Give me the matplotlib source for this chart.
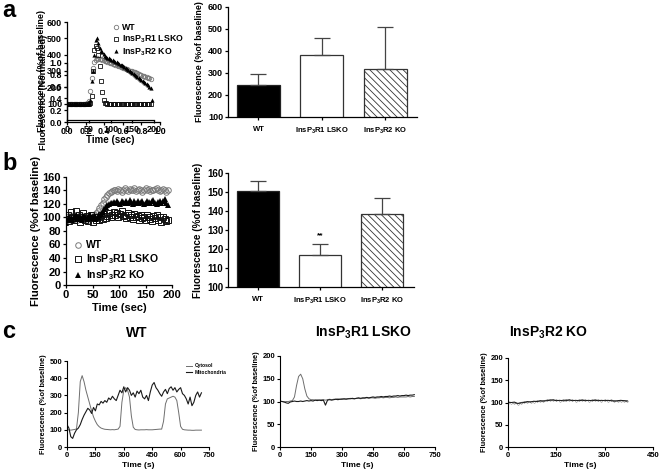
import numpy as np
import matplotlib
matplotlib.use("Agg")
import matplotlib.pyplot as plt

plt.rcParams['font.family'] = ['Liberation Sans', 'DejaVu Sans']
plt.rcParams['font.weight'] = 'bold'
plt.rcParams['axes.labelweight'] = 'bold'
plt.rcParams['mathtext.fontset'] = 'custom'
plt.rcParams['mathtext.rm'] = 'Liberation Sans:bold'
plt.rcParams['mathtext.bf'] = 'Liberation Sans:bold'
plt.rcParams['mathtext.default'] = 'bf'
plt.rcParams['hatch.linewidth'] = 0.6

# ---------------- data ----------------
groups = ['WT', 'InsP$_3$R1 LSKO', 'InsP$_3$R2 KO']

# panel a, left: time course (3 s sampling)
a_wt = [100, 101, 100, 99, 100, 101, 100, 100, 99, 100, 101, 100, 100, 101, 100, 102, 104,
        115, 180, 260, 320, 355, 370, 378, 376,
        374, 371, 368, 366, 362, 359, 356, 353, 350, 347, 344, 341, 338, 334, 331,
        328, 325, 322, 319, 316, 313, 310, 306, 303, 300, 297, 294, 291, 288, 285,
        282, 278, 275, 272, 269, 266, 263, 260, 256, 253]
a_lsko = [100, 99, 100, 100, 101, 100, 99, 100, 100, 101, 100, 100, 99, 100, 100, 101, 100, 100, 103,
          150, 300, 430, 455, 440, 400, 330, 240, 170, 125, 107, 102,
          100, 100, 99, 100, 100, 100, 101, 100, 100, 99, 100, 100, 100, 100, 99, 100, 100, 101,
          100, 100, 100, 99, 100, 100, 100, 100, 100, 99, 100, 100, 101, 100, 100, 100]
a_ko = [100, 101, 100, 99, 100, 100, 101, 100, 99, 100, 100, 101, 100, 100, 99, 101, 100, 102,
        120, 240, 300, 400, 490, 505, 470, 440, 425, 415, 405,
        390, 386, 382, 378, 374, 370, 366, 361, 357, 353, 348, 344, 339, 334, 329, 324, 318, 312,
        306, 300, 294, 288, 282, 276, 270, 264, 258, 252, 246, 240, 233, 226, 219, 212, 205, 198]
a_ko_last_t = [195]
a_ko_last_v = [125]

# panel a, right: peak fluorescence (% of baseline), mean and SEM
a_mean = [245, 383, 316]
a_sem = [50, 77, 195]

# panel b, left: time course (3 s sampling)
b_wt = [95, 98, 102, 97, 100, 104, 99, 96, 101, 103, 98, 100, 102, 99, 97, 101, 104, 100, 103, 106,
        110, 114, 118, 122, 127, 131, 134, 136, 138, 139, 140,
        141, 139, 142, 140, 138, 141, 143, 140, 139, 142, 141, 140, 143, 139, 141, 142, 140,
        138, 141, 143, 140, 142, 139, 141, 140, 142, 143, 140, 139, 141, 142, 140, 138, 141]
b_lsko = [98, 104, 95, 108, 101, 96, 110, 99, 103, 94,
          100, 106, 97, 102, 95, 99, 104, 93, 101, 97,
          100, 96, 103, 98, 105, 99, 102, 107, 101, 104,
          108, 103, 106, 100, 105, 109, 102, 104, 99, 107,
          101, 103, 98, 105, 100, 102, 96, 104, 99, 101,
          97, 103, 100, 98, 95, 102, 99, 104, 96, 101,
          93, 100, 98, 95, 97]
b_ko = [92, 97, 101, 99, 96, 100, 103, 98, 101, 99, 97, 102, 100, 98, 101, 103, 99, 100, 102, 98, 101, 103, 105,
        108, 112, 116, 118, 120, 121, 122,
        123, 121, 124, 122, 120, 125, 123, 121, 124, 122, 126, 123, 120, 124, 122, 125, 121, 123,
        124, 120, 122, 125, 123, 121, 124, 126, 122, 120, 123, 125, 121, 124, 127, 122, 118]

# panel b, right
b_mean = [150.5, 117, 138.5]
b_sem = [5.5, 5.5, 8.5]

# panel c (10 s sampling)
c_wt_cyto = [100, 100, 98, 100, 102, 105, 200, 380, 415, 380,
             330, 290, 250, 210, 175, 150, 130, 118, 110, 106,
             103, 102, 101, 100, 101, 100, 102, 104, 120, 260,
             330, 345, 330, 290, 180, 115, 102, 100, 99, 100,
             100, 100, 101, 100, 100, 100, 101, 102, 103, 104,
             104, 150, 250, 280, 285, 290, 295, 290, 270, 200,
             120, 103, 100, 99, 98, 98, 97, 97, 98, 98, 98, 98]
c_wt_mito = [130, 110, 60, 50, 80, 100, 110, 130, 160, 185,
             205, 225, 215, 195, 230, 210, 250, 245, 265, 255,
             270, 260, 285, 275, 295, 280, 270, 300, 330, 315,
             350, 320, 345, 330, 300, 315, 290, 325, 310, 330,
             290, 280, 300, 270, 320, 360, 375, 345, 330, 310,
             295, 320, 335, 310, 340, 350, 330, 345, 320, 335,
             345, 310, 300, 280, 250, 290, 240, 260, 300, 320, 290, 315]
c_lsko_cyto = [100, 100, 99, 100, 100, 101, 102, 110, 135, 155,
               160, 150, 128, 112, 106, 104, 104, 103, 104, 103,
               104, 104, 103, 104, 105, 104, 105, 105, 106, 105,
               106, 105, 106, 106, 107, 106, 106, 107, 107, 106,
               107, 107, 108, 107, 108, 108, 107, 108, 108, 109,
               108, 109, 109, 108, 109, 109, 110, 109, 110, 110,
               110, 110, 111, 110, 111, 111]
c_lsko_mito = [101, 100, 99, 97, 96, 99, 100, 101, 100, 100,
               101, 100, 101, 102, 101, 102, 101, 103, 102, 103,
               102, 103, 92, 103, 104, 103, 104, 105, 104, 105,
               105, 106, 105, 106, 106, 107, 106, 107, 108, 107,
               108, 108, 109, 108, 109, 110, 109, 110, 110, 111,
               110, 111, 111, 112, 111, 112, 112, 113, 112, 113,
               113, 114, 113, 114, 114, 115]
c_ko_cyto = [100, 100, 99, 97, 100, 101, 101, 102, 102, 103,
             103, 104, 105, 106, 105, 105, 104, 105, 106, 105,
             105, 104, 105, 106, 105, 104, 105, 106, 105, 104,
             105, 104, 105, 104, 103, 104, 104, 104]
c_ko_mito = [101, 100, 101, 98, 99, 100, 102, 101, 103, 102,
             104, 103, 104, 105, 106, 104, 105, 104, 104, 106,
             104, 105, 104, 105, 104, 105, 104, 105, 104, 105,
             104, 105, 104, 103, 104, 105, 104, 103]

W, H = 660, 471
fig = plt.figure(figsize=(W / 100, H / 100), dpi=100)


def ax_px(l, t, r, b):
    return fig.add_axes([l / W, 1 - b / H, (r - l) / W, (b - t) / H])


def style(ax, fs, lw=0.9):
    for s in ['top', 'right']:
        ax.spines[s].set_visible(False)
    for s in ['left', 'bottom']:
        ax.spines[s].set_linewidth(lw)
    ax.tick_params(direction='out', length=2.5, width=lw, labelsize=fs, pad=1)


fl = 'Fluorescence (%of baseline)'

# ---------------- panel a left ----------------
ax = ax_px(67, 22, 154, 120)
style(ax, 6.5)
ax.plot(np.arange(len(a_wt)) * 3, a_wt, 'o', ms=3.2, mfc='none', mec='#7a7a7a', mew=0.6, label='WT')
ax.plot(np.arange(len(a_lsko)) * 3, a_lsko, 's', ms=3.0, mfc='none', mec='#111', mew=0.6, label='InsP$_3$R1 LSKO')
ax.plot(np.arange(len(a_ko)) * 3, a_ko, '^', ms=3.0, color='#000', mew=0, label='InsP$_3$R2 KO')
ax.plot(a_ko_last_t, a_ko_last_v, '^', ms=3.0, color='#000', mew=0)
ax.set_xlim(0, 200)
ax.set_ylim(0, 600)
ax.set_xticks([0, 50, 100, 150, 200])
ax.set_yticks([100, 200, 300, 400, 500, 600])
ax.set_ylabel(fl, fontsize=6.5, labelpad=1)
ax.set_xlabel('Time (sec)', fontsize=7, labelpad=1)
ax.legend(loc='upper left', bbox_to_anchor=(0.48, 1.03), frameon=False, fontsize=6.3,
          handlelength=0.6, handletextpad=0.4, labelspacing=0.15, borderpad=0)

# overlaid empty axis (artefact in the original)
ax2 = ax_px(67, 63, 160, 122)
ax2.patch.set_alpha(0)
style(ax2, 6.5)
ax2.set_xlim(0, 1)
ax2.set_ylim(0, 1)
ax2.set_xticks([0, 0.2, 0.4, 0.6, 0.8, 1.0])
ax2.set_yticks([0, 0.2, 0.4, 0.6, 0.8, 1.0])
ax2.set_ylabel('Fluorescence (Normalized)', fontsize=6.5, labelpad=1)

# ---------------- bar helper ----------------
xb = np.arange(3)


def bars(ax, mean, sem, fs_lab):
    ax.bar(xb[0], mean[0], width=0.68, color='#000', edgecolor='#222', lw=0.9)
    ax.bar(xb[1], mean[1], width=0.68, color='white', edgecolor='#333', lw=0.9)
    ax.bar(xb[2], mean[2], width=0.68, color='white', edgecolor='#333', lw=0.9, hatch='\\\\\\\\\\')
    ax.errorbar(xb, mean, yerr=[np.zeros(3), sem], fmt='none', ecolor='#444',
                elinewidth=0.9, capsize=5.5, capthick=0.9)
    ax.set_xticks(xb)
    ax.set_xticklabels(groups, fontsize=fs_lab)


# ---------------- panel a right ----------------
ax = ax_px(228, 7, 417, 117)
style(ax, 6.5)
bars(ax, a_mean, a_sem, 5.5)
ax.set_xlim(-0.48, 2.5)
ax.set_ylim(100, 600)
ax.set_yticks([100, 200, 300, 400, 500, 600])
ax.set_ylabel(fl, fontsize=6.4, labelpad=3)
ax.tick_params(axis='x', pad=4)

# ---------------- panel b left ----------------
ax = ax_px(66, 177, 172, 285)
style(ax, 8)
ax.plot(np.arange(len(b_wt)) * 3, b_wt, 'o', ms=4, mfc='none', mec='#7a7a7a', mew=0.7, label='WT')
ax.plot(np.arange(len(b_lsko)) * 3, b_lsko, 's', ms=3.8, mfc='none', mec='#111', mew=0.7, label='InsP$_3$R1 LSKO')
ax.plot(np.arange(len(b_ko)) * 3, b_ko, '^', ms=3.8, color='#000', mew=0, label='InsP$_3$R2 KO')
ax.set_xlim(0, 200)
ax.set_ylim(0, 160)
ax.set_xticks([0, 50, 100, 150, 200])
ax.set_yticks(np.arange(0, 161, 20))
ax.set_ylabel(fl, fontsize=8, labelpad=1)
ax.set_xlabel('Time (sec)', fontsize=8, labelpad=2)
ax.legend(loc='lower left', bbox_to_anchor=(0.03, -0.02), frameon=False, fontsize=7.5,
          handlelength=0.6, handletextpad=0.5, labelspacing=0.2, borderpad=0)

# ---------------- panel b right ----------------
ax = ax_px(228, 173, 414, 287)
style(ax, 7)
bars(ax, b_mean, b_sem, 5.5)
ax.set_xlim(-0.48, 2.52)
ax.set_ylim(100, 160)
ax.set_yticks([100, 110, 120, 130, 140, 150, 160])
ax.set_ylabel(fl, fontsize=7.2, labelpad=3)
ax.tick_params(axis='x', pad=4)
ax.text(xb[1], b_mean[1] + b_sem[1] + 4.5, '**', ha='center', va='center', fontsize=6)

# ---------------- panel c ----------------
cyto_c = '#6e6e6e'
mito_c = '#1a1a1a'

ax = ax_px(67, 361, 209, 447)
style(ax, 5.5, lw=0.8)
ax.plot(np.arange(len(c_wt_cyto)) * 10, c_wt_cyto, color=cyto_c, lw=0.7, label='Cytosol')
ax.plot(np.arange(len(c_wt_mito)) * 10, c_wt_mito, color=mito_c, lw=0.8, label='Mitochondria')
ax.set_xlim(0, 750)
ax.set_ylim(0, 500)
ax.set_xticks([0, 150, 300, 450, 600, 750])
ax.set_yticks([0, 100, 200, 300, 400, 500])
ax.set_ylabel(fl, fontsize=5.3, labelpad=2)
ax.set_xlabel('Time (s)', fontsize=6, labelpad=2)
ax.legend(loc='upper left', bbox_to_anchor=(0.82, 1.0), frameon=False, fontsize=3.6,
          handlelength=1.2, handletextpad=0.5, labelspacing=0.3, borderpad=0)
fig.text(137 / W, 1 - 333 / H, 'WT', ha='center', va='center', fontsize=10, fontweight='bold')

ax = ax_px(280, 356, 435, 447)
style(ax, 5.5, lw=0.8)
ax.plot(np.arange(len(c_lsko_cyto)) * 10, c_lsko_cyto, color=cyto_c, lw=0.7)
ax.plot(np.arange(len(c_lsko_mito)) * 10, c_lsko_mito, color=mito_c, lw=0.8)
ax.set_xlim(0, 750)
ax.set_ylim(0, 200)
ax.set_xticks([0, 150, 300, 450, 600, 750])
ax.set_yticks([0, 50, 100, 150, 200])
ax.set_ylabel(fl, fontsize=5.3, labelpad=2)
ax.set_xlabel('Time (s)', fontsize=6, labelpad=2)
fig.text(363 / W, 1 - 333 / H, 'InsP$_3$R1 LSKO', ha='center', va='center', fontsize=10, fontweight='bold')

ax = ax_px(508, 358, 653, 447)
style(ax, 5.5, lw=0.8)
ax.plot(np.arange(len(c_ko_cyto)) * 10, c_ko_cyto, color=cyto_c, lw=0.7, marker='o', ms=1.2, mfc='none', mew=0.3)
ax.plot(np.arange(len(c_ko_mito)) * 10, c_ko_mito, color=mito_c, lw=0.7)
ax.set_xlim(0, 450)
ax.set_ylim(0, 200)
ax.set_xticks([0, 150, 300, 450])
ax.set_yticks([0, 50, 100, 150, 200])
ax.set_ylabel(fl, fontsize=5.3, labelpad=2)
ax.set_xlabel('Time (s)', fontsize=6, labelpad=2)
fig.text(549 / W, 1 - 333 / H, 'InsP$_3$R2 KO', ha='center', va='center', fontsize=10, fontweight='bold')

# panel letters
fig.text(2 / W, 1 - 17 / H, 'a', fontsize=17, fontweight='bold', va='baseline')
fig.text(2 / W, 1 - 170 / H, 'b', fontsize=17, fontweight='bold', va='baseline')
fig.text(2 / W, 1 - 338 / H, 'c', fontsize=17, fontweight='bold', va='baseline')

fig.savefig('out.png', dpi=100)
